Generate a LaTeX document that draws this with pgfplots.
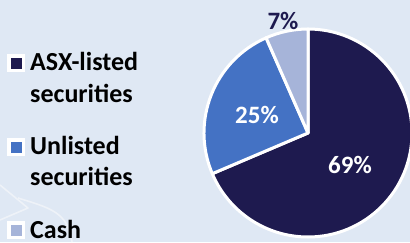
\documentclass[border=0pt]{standalone}
\usepackage{pgfplots}
\pgfplotsset{compat=1.18}
\usepackage{pgfplotstable}
\usepackage{fontspec}
\setmainfont{Carlito}
\definecolor{bg}{HTML}{DFE8F4}
\definecolor{navy}{HTML}{1E1A4F}
\definecolor{midblue}{HTML}{4472C4}
\definecolor{lightblue}{HTML}{A6B4D9}
\definecolor{wm}{HTML}{EEF2F8}
\pgfplotstableread{
name value
ASX 68.6
Unlisted 24.8
Cash 6.6
}\piedata
\begin{document}
\begin{tikzpicture}
\pgfplotstablegetelem{0}{value}\of\piedata \pgfmathsetmacro{\va}{\pgfplotsretval}
\pgfplotstablegetelem{1}{value}\of\piedata \pgfmathsetmacro{\vb}{\pgfplotsretval}
\pgfplotstablegetelem{2}{value}\of\piedata \pgfmathsetmacro{\vc}{\pgfplotsretval}
\pgfmathsetmacro{\tot}{\va+\vb+\vc}
\pgfmathsetmacro{\aA}{90}
\pgfmathsetmacro{\aB}{90-360*(\va/\tot)}
\pgfmathsetmacro{\aC}{\aB-360*(\vb/\tot)}
\pgfmathsetmacro{\aD}{\aC-360*(\vc/\tot)}
\begin{axis}[
  x=1pt, y=1pt, xmin=0, xmax=410, ymin=0, ymax=242,
  hide axis, clip=true,
]
\fill[bg] (axis cs:0,0) rectangle (axis cs:410,242);
% faint watermark
\draw[wm, line width=1.6pt, line join=round] (axis cs:0,57) -- (axis cs:28,34) -- (axis cs:0,22);
\draw[wm, line width=1.6pt] (axis cs:18,44) .. controls (axis cs:50,34) and (axis cs:68,30) .. (axis cs:72,0);
% pie
\def\cx{308}\def\cy{109}\def\r{104pt}
\filldraw[navy, draw=white, line width=3pt, line join=round] (axis cs:\cx,\cy) -- ++(\aA:\r) arc[start angle=\aA, end angle=\aB, radius=\r] -- cycle;
\filldraw[midblue, draw=white, line width=3pt, line join=round] (axis cs:\cx,\cy) -- ++(\aB:\r) arc[start angle=\aB, end angle=\aC, radius=\r] -- cycle;
\filldraw[lightblue, draw=white, line width=3pt, line join=round] (axis cs:\cx,\cy) -- ++(\aC:\r) arc[start angle=\aC, end angle=\aD, radius=\r] -- cycle;
% pie labels
\node[font=\fontsize{25}{30}\selectfont\bfseries, text=navy] at (axis cs:283,221) {7\%};
\node[font=\fontsize{25}{30}\selectfont\bfseries, text=white] at (axis cs:257,127) {25\%};
\node[font=\fontsize{25}{30}\selectfont\bfseries, text=white] at (axis cs:350,77) {69\%};
% legend
\node[fill=white, minimum size=18pt, inner sep=0pt] at (axis cs:16,179) {};
\node[fill=navy, minimum size=11pt, inner sep=0pt] at (axis cs:16,179) {};
\node[fill=white, minimum size=18pt, inner sep=0pt] at (axis cs:16,95) {};
\node[fill=midblue, minimum size=11pt, inner sep=0pt] at (axis cs:16,95) {};
\node[fill=white, minimum size=18pt, inner sep=0pt] at (axis cs:16,12) {};
\node[fill=lightblue, minimum size=11pt, inner sep=0pt] at (axis cs:16,12) {};
\tikzset{lt/.style={anchor=base west, inner sep=0pt, font=\fontsize{26}{31}\selectfont\bfseries}}
\node[lt] at (axis cs:30,172) {ASX-listed};
\node[lt] at (axis cs:30,140) {securities};
\node[lt] at (axis cs:30,88) {Unlisted};
\node[lt] at (axis cs:30,57) {securities};
\node[lt] at (axis cs:30,4) {Cash};
\end{axis}
\pgfresetboundingbox
\path (0,0) rectangle (410pt,242pt);
\end{tikzpicture}
\end{document}
